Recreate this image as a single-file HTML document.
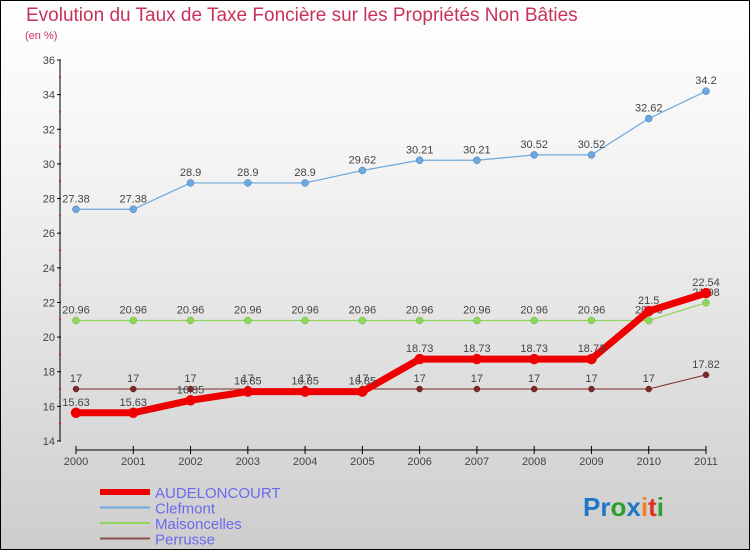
<!DOCTYPE html>
<html><head><meta charset="utf-8"><style>
body{margin:0;width:750px;height:550px;overflow:hidden;font-family:"Liberation Sans",sans-serif}
#c{position:absolute;left:0;top:0;width:748px;height:548px;border:1px solid #000;background:linear-gradient(#ffffff,#f4f4f4 30%,#cdcdcd)}
</style></head><body>
<div id="c">
<svg id="s" width="750" height="550" style="position:absolute;left:-1px;top:-1px">
<text x="26" y="21" font-size="19" fill="#c8325a">Evolution du Taux de Taxe Foncière sur les Propriétés Non Bâties</text>
<text x="25" y="39" font-size="11" fill="#c8325a">(en %)</text>
<g id="g"></g>
</svg>
</div>
<script>
const years=[2000,2001,2002,2003,2004,2005,2006,2007,2008,2009,2010,2011];
const yTicks=[14,16,18,20,22,24,26,28,30,32,34,36];
const audeloncourt=[15.63,15.63,16.35,16.85,16.85,16.85,18.73,18.73,18.73,18.73,21.5,22.54];
const clefmont=[27.38,27.38,28.9,28.9,28.9,29.62,30.21,30.21,30.52,30.52,32.62,34.2];
const maisoncelles=[20.96,20.96,20.96,20.96,20.96,20.96,20.96,20.96,20.96,20.96,20.96,21.98];
const perrusse=[17,17,17,17,17,17,17,17,17,17,17,17.82];
const NS="http://www.w3.org/2000/svg",g=document.getElementById('g');
const X=i=>76+i*(630/11), Y=v=>441-(v-14)*(381/22);
function el(t,a,name){const e=document.createElementNS(NS,t);for(const k in a)e.setAttribute(k,a[k]);


g.appendChild(e);return e;}
el('line',{x1:60,y1:60,x2:60,y2:441,stroke:'#000'},'y-axis');
yTicks.forEach(v=>{el('line',{x1:57,x2:61,y1:Y(v),y2:Y(v),stroke:'#000'},'y-tick');
const t=el('text',{x:55,y:Y(v)+4,'text-anchor':'end','font-size':11,fill:'#444'},'y-tick-label');t.textContent=v;
if(v<36)el('line',{x1:59,x2:61,y1:Y(v+1),y2:Y(v+1),stroke:'#e00'},'y-minor-tick');});
el('line',{x1:76,y1:450,x2:706,y2:450,stroke:'#000'},'x-axis');
years.forEach((y,i)=>{el('line',{x1:X(i),x2:X(i),y1:446,y2:454,stroke:'#000'},'x-tick');
const t=el('text',{x:X(i),y:465,'text-anchor':'middle','font-size':11,fill:'#444'},'x-tick-label');t.textContent=y;});
function series(d,col,w,r,name,lab){
el('polyline',{points:d.map((v,i)=>X(i)+','+Y(v)).join(' '),fill:'none',stroke:col,'stroke-width':w,'stroke-linejoin':'round'},name+'-line');
d.forEach((v,i)=>{el('circle',{cx:X(i),cy:Y(v),r:r,fill:col,stroke:lab,'stroke-width':0.5},name+'-point');
const t=el('text',{x:X(i),y:Y(v)-7,'text-anchor':'middle','font-size':11,fill:'#444'},name+'-value-label');t.textContent=v;});}
series(perrusse,'#7a2a2a',1,3,'perrusse','#5a1a1a');
series(maisoncelles,'#8fd65a',1.2,3.5,'maisoncelles','#6ab040');
series(clefmont,'#6fa8dc',1.2,3.5,'clefmont','#3a7ab8');
series(audeloncourt,'#ee0000',7,5,'audeloncourt','#ee0000');
const leg=[['AUDELONCOURT','#ee0000',6],['Clefmont','#6fa8dc',2],['Maisoncelles','#8fd65a',2],['Perrusse','#8a5050',2]];
leg.forEach((l,i)=>{const y=492+i*15.5;
el('line',{x1:100,x2:150,y1:y,y2:y,stroke:l[1],'stroke-width':l[2]},'legend-swatch');
const t=el('text',{x:155,y:y+6,'font-size':15,fill:'#6a6aee'},'legend-entry');t.textContent=l[0];});
const p=el('text',{x:583,y:516,'font-size':26,'font-weight':'bold'},'proxiti-logo');
[['Pr','#1e78c8'],['o','#2aa030'],['x','#1e78c8'],['i','#f08020'],['t','#e03020'],['i','#2aa030']].forEach(s=>{const ts=document.createElementNS(NS,'tspan');ts.setAttribute('fill',s[1]);ts.textContent=s[0];p.appendChild(ts);});
</script>
</body></html>
